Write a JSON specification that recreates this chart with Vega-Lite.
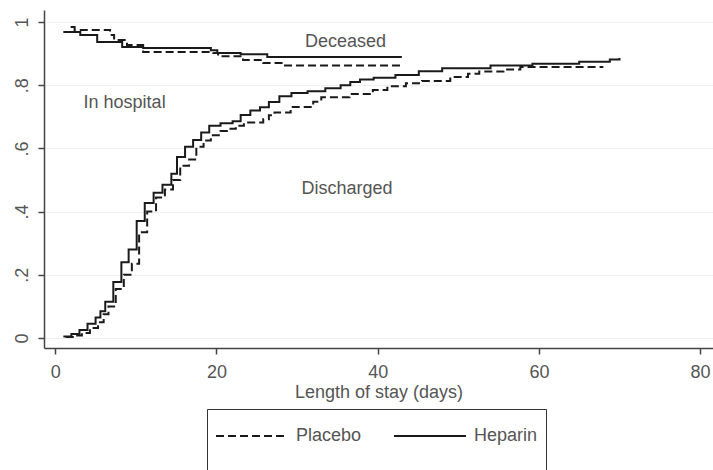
{
  "$schema": "https://vega.github.io/schema/vega-lite/v6.json",
  "width": 669,
  "height": 338,
  "autosize": {"type": "none"},
  "padding": {"left": 44, "top": 10, "right": 0, "bottom": 122},
  "background": "white",
  "config": {
    "view": {"stroke": null},
    "font": "Liberation Sans",
    "axis": {
      "domainColor": "#444",
      "domainWidth": 1.5,
      "tickColor": "#444",
      "tickWidth": 1.5,
      "tickSize": 6,
      "labelColor": "#555",
      "labelFont": "Liberation Sans",
      "labelFontSize": 18,
      "titleFont": "Liberation Sans",
      "titleFontSize": 18,
      "titleFontWeight": "normal",
      "titleColor": "#555"
    },
    "legend": {
      "labelFont": "Liberation Sans",
      "labelFontSize": 18,
      "labelColor": "#555"
    }
  },
  "datasets": {
    "curves": [
      {"group": "Heparin", "curve": "discharged", "day": 1, "p": 0.005},
      {"group": "Heparin", "curve": "discharged", "day": 2, "p": 0.013},
      {"group": "Heparin", "curve": "discharged", "day": 3, "p": 0.025},
      {"group": "Heparin", "curve": "discharged", "day": 4, "p": 0.045},
      {"group": "Heparin", "curve": "discharged", "day": 5, "p": 0.065},
      {"group": "Heparin", "curve": "discharged", "day": 5.6, "p": 0.085},
      {"group": "Heparin", "curve": "discharged", "day": 6.2, "p": 0.115},
      {"group": "Heparin", "curve": "discharged", "day": 7.2, "p": 0.177},
      {"group": "Heparin", "curve": "discharged", "day": 8.2, "p": 0.24},
      {"group": "Heparin", "curve": "discharged", "day": 9.1, "p": 0.28},
      {"group": "Heparin", "curve": "discharged", "day": 10.1, "p": 0.37},
      {"group": "Heparin", "curve": "discharged", "day": 11.1, "p": 0.427},
      {"group": "Heparin", "curve": "discharged", "day": 12.2, "p": 0.46},
      {"group": "Heparin", "curve": "discharged", "day": 13.3, "p": 0.485},
      {"group": "Heparin", "curve": "discharged", "day": 14.4, "p": 0.52},
      {"group": "Heparin", "curve": "discharged", "day": 15.1, "p": 0.573},
      {"group": "Heparin", "curve": "discharged", "day": 16.1, "p": 0.605},
      {"group": "Heparin", "curve": "discharged", "day": 17.1, "p": 0.627},
      {"group": "Heparin", "curve": "discharged", "day": 18.1, "p": 0.65},
      {"group": "Heparin", "curve": "discharged", "day": 19.1, "p": 0.672},
      {"group": "Heparin", "curve": "discharged", "day": 20.5, "p": 0.68},
      {"group": "Heparin", "curve": "discharged", "day": 22, "p": 0.686},
      {"group": "Heparin", "curve": "discharged", "day": 23, "p": 0.706},
      {"group": "Heparin", "curve": "discharged", "day": 24.2, "p": 0.72},
      {"group": "Heparin", "curve": "discharged", "day": 25.4, "p": 0.73},
      {"group": "Heparin", "curve": "discharged", "day": 26.5, "p": 0.747},
      {"group": "Heparin", "curve": "discharged", "day": 27.8, "p": 0.765},
      {"group": "Heparin", "curve": "discharged", "day": 29.3, "p": 0.775},
      {"group": "Heparin", "curve": "discharged", "day": 31.3, "p": 0.781},
      {"group": "Heparin", "curve": "discharged", "day": 33.5, "p": 0.79},
      {"group": "Heparin", "curve": "discharged", "day": 35.4, "p": 0.8},
      {"group": "Heparin", "curve": "discharged", "day": 36.6, "p": 0.81},
      {"group": "Heparin", "curve": "discharged", "day": 37.8, "p": 0.818},
      {"group": "Heparin", "curve": "discharged", "day": 39.5, "p": 0.824},
      {"group": "Heparin", "curve": "discharged", "day": 42.2, "p": 0.832},
      {"group": "Heparin", "curve": "discharged", "day": 45.1, "p": 0.844},
      {"group": "Heparin", "curve": "discharged", "day": 48, "p": 0.854},
      {"group": "Heparin", "curve": "discharged", "day": 54, "p": 0.862},
      {"group": "Heparin", "curve": "discharged", "day": 59.2, "p": 0.868},
      {"group": "Heparin", "curve": "discharged", "day": 65, "p": 0.874},
      {"group": "Heparin", "curve": "discharged", "day": 68.8, "p": 0.881},
      {"group": "Heparin", "curve": "discharged", "day": 70, "p": 0.886},

      {"group": "Placebo", "curve": "discharged", "day": 1.3, "p": 0.003},
      {"group": "Placebo", "curve": "discharged", "day": 2.3, "p": 0.008},
      {"group": "Placebo", "curve": "discharged", "day": 3.3, "p": 0.016},
      {"group": "Placebo", "curve": "discharged", "day": 4.3, "p": 0.032},
      {"group": "Placebo", "curve": "discharged", "day": 5.3, "p": 0.05},
      {"group": "Placebo", "curve": "discharged", "day": 6, "p": 0.075},
      {"group": "Placebo", "curve": "discharged", "day": 6.6, "p": 0.1},
      {"group": "Placebo", "curve": "discharged", "day": 7.5, "p": 0.155},
      {"group": "Placebo", "curve": "discharged", "day": 8.5, "p": 0.2},
      {"group": "Placebo", "curve": "discharged", "day": 9.5, "p": 0.235},
      {"group": "Placebo", "curve": "discharged", "day": 10.4, "p": 0.335},
      {"group": "Placebo", "curve": "discharged", "day": 11.4, "p": 0.4},
      {"group": "Placebo", "curve": "discharged", "day": 12.5, "p": 0.445},
      {"group": "Placebo", "curve": "discharged", "day": 13.6, "p": 0.47},
      {"group": "Placebo", "curve": "discharged", "day": 14.6, "p": 0.5},
      {"group": "Placebo", "curve": "discharged", "day": 15.5, "p": 0.545},
      {"group": "Placebo", "curve": "discharged", "day": 16.6, "p": 0.565},
      {"group": "Placebo", "curve": "discharged", "day": 17.5, "p": 0.605},
      {"group": "Placebo", "curve": "discharged", "day": 18.4, "p": 0.625},
      {"group": "Placebo", "curve": "discharged", "day": 19.3, "p": 0.642},
      {"group": "Placebo", "curve": "discharged", "day": 20.5, "p": 0.655},
      {"group": "Placebo", "curve": "discharged", "day": 21.3, "p": 0.662},
      {"group": "Placebo", "curve": "discharged", "day": 22.4, "p": 0.672},
      {"group": "Placebo", "curve": "discharged", "day": 23.4, "p": 0.682},
      {"group": "Placebo", "curve": "discharged", "day": 25.8, "p": 0.692},
      {"group": "Placebo", "curve": "discharged", "day": 26.5, "p": 0.705},
      {"group": "Placebo", "curve": "discharged", "day": 27.2, "p": 0.714},
      {"group": "Placebo", "curve": "discharged", "day": 29.2, "p": 0.731},
      {"group": "Placebo", "curve": "discharged", "day": 32, "p": 0.748},
      {"group": "Placebo", "curve": "discharged", "day": 33, "p": 0.762},
      {"group": "Placebo", "curve": "discharged", "day": 36.5, "p": 0.772},
      {"group": "Placebo", "curve": "discharged", "day": 39.4, "p": 0.785},
      {"group": "Placebo", "curve": "discharged", "day": 41.2, "p": 0.797},
      {"group": "Placebo", "curve": "discharged", "day": 43.5, "p": 0.806},
      {"group": "Placebo", "curve": "discharged", "day": 45.5, "p": 0.813},
      {"group": "Placebo", "curve": "discharged", "day": 49, "p": 0.826},
      {"group": "Placebo", "curve": "discharged", "day": 51.2, "p": 0.836},
      {"group": "Placebo", "curve": "discharged", "day": 52.6, "p": 0.843},
      {"group": "Placebo", "curve": "discharged", "day": 55.6, "p": 0.85},
      {"group": "Placebo", "curve": "discharged", "day": 57.7, "p": 0.858},
      {"group": "Placebo", "curve": "discharged", "day": 68, "p": 0.858},

      {"group": "Heparin", "curve": "deceased", "day": 1, "p": 0.968},
      {"group": "Heparin", "curve": "deceased", "day": 3.1, "p": 0.959},
      {"group": "Heparin", "curve": "deceased", "day": 5.2, "p": 0.937},
      {"group": "Heparin", "curve": "deceased", "day": 8.3, "p": 0.921},
      {"group": "Heparin", "curve": "deceased", "day": 10.9, "p": 0.918},
      {"group": "Heparin", "curve": "deceased", "day": 19.3, "p": 0.911},
      {"group": "Heparin", "curve": "deceased", "day": 20.1, "p": 0.902},
      {"group": "Heparin", "curve": "deceased", "day": 23, "p": 0.898},
      {"group": "Heparin", "curve": "deceased", "day": 26.3, "p": 0.889},
      {"group": "Heparin", "curve": "deceased", "day": 43, "p": 0.889},

      {"group": "Placebo", "curve": "deceased", "day": 1.9, "p": 0.984},
      {"group": "Placebo", "curve": "deceased", "day": 2.4, "p": 0.975},
      {"group": "Placebo", "curve": "deceased", "day": 6.8, "p": 0.959},
      {"group": "Placebo", "curve": "deceased", "day": 7.3, "p": 0.943},
      {"group": "Placebo", "curve": "deceased", "day": 8.9, "p": 0.927},
      {"group": "Placebo", "curve": "deceased", "day": 10.9, "p": 0.905},
      {"group": "Placebo", "curve": "deceased", "day": 19.6, "p": 0.902},
      {"group": "Placebo", "curve": "deceased", "day": 20.2, "p": 0.892},
      {"group": "Placebo", "curve": "deceased", "day": 23.3, "p": 0.88},
      {"group": "Placebo", "curve": "deceased", "day": 25.8, "p": 0.87},
      {"group": "Placebo", "curve": "deceased", "day": 28.3, "p": 0.862},
      {"group": "Placebo", "curve": "deceased", "day": 43, "p": 0.862}
    ],
    "labels": [
      {"label": "Deceased", "day": 36.0, "p": 0.938},
      {"label": "In hospital", "day": 8.6, "p": 0.744},
      {"label": "Discharged", "day": 36.2, "p": 0.472}
    ]
  },
  "layer": [
    {
      "data": {"name": "curves"},
      "mark": {"type": "line", "interpolate": "step-after", "color": "#1a1a1a", "strokeWidth": 2},
      "encoding": {
        "x": {
          "field": "day", "type": "quantitative",
          "scale": {"domain": [-1.4, 81.6], "nice": false, "zero": false},
          "axis": {
            "values": [0, 20, 40, 60, 80],
            "grid": false,
            "title": "Length of stay (days)",
            "labelPadding": 9,
            "titlePadding": 2
          }
        },
        "y": {
          "field": "p", "type": "quantitative",
          "scale": {"domain": [-0.0316, 1.038], "nice": false, "zero": false},
          "axis": {
            "values": [0, 0.2, 0.4, 0.6, 0.8, 1],
            "format": ".1~f",
            "labelExpr": "replace(datum.label, '0.', '.')",
            "labelAngle": -90,
            "labelPadding": 7,
            "grid": true,
            "gridColor": "#efefef",
            "gridWidth": 1,
            "title": null
          }
        },
        "strokeDash": {
          "field": "group", "type": "nominal",
          "scale": {"domain": ["Placebo", "Heparin"], "range": [[8, 4], [1, 0]]},
          "legend": {
            "title": " ",
            "titleOrient": "bottom",
            "titleFontSize": 20,
            "titlePadding": 6,
            "orient": "none",
            "legendX": 163,
            "legendY": 399,
            "direction": "horizontal",
            "columns": 2,
            "symbolType": "M-2,0H2",
            "symbolSize": 1296,
            "symbolOffset": 18,
            "symbolStrokeWidth": 2,
            "symbolStrokeColor": "#1a1a1a",
            "labelOffset": 25,
            "columnPadding": 28,
            "padding": 8,
            "strokeColor": "#333",
            "fillColor": "white"
          }
        },
        "detail": {"field": "curve", "type": "nominal"}
      }
    },
    {
      "data": {"name": "labels"},
      "mark": {"type": "text", "fontSize": 18, "color": "#555", "font": "Liberation Sans", "align": "center", "baseline": "middle"},
      "encoding": {
        "x": {"field": "day", "type": "quantitative"},
        "y": {"field": "p", "type": "quantitative"},
        "text": {"field": "label", "type": "nominal"}
      }
    }
  ]
}
